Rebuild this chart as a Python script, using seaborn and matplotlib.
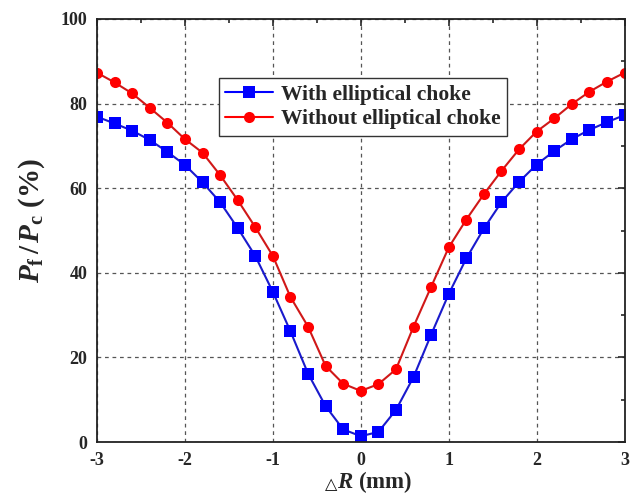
import numpy as np
import pandas as pd
import matplotlib
matplotlib.use("Agg")
import matplotlib.pyplot as plt
import seaborn as sns
from matplotlib.ticker import MultipleLocator

# Displacement offsets (mm)
delta_r = [-3.0, -2.8, -2.6, -2.4, -2.2, -2.0, -1.8, -1.6, -1.4, -1.2, -1.0,
           -0.8, -0.6, -0.4, -0.2, 0.0, 0.2, 0.4, 0.6, 0.8, 1.0,
           1.2, 1.4, 1.6, 1.8, 2.0, 2.2, 2.4, 2.6, 2.8, 3.0]

# Power ratio Pf/Pc (%) with the elliptical choke
with_choke = [76.9, 75.3, 73.6, 71.4, 68.6, 65.5, 61.4, 56.7, 50.6, 44.0, 35.5,
              26.2, 16.2, 8.5, 3.0, 1.4, 2.4, 7.6, 15.4, 25.4, 35.0,
              43.4, 50.5, 56.7, 61.5, 65.6, 68.8, 71.6, 73.8, 75.6, 77.3]

# Power ratio Pf/Pc (%) without the elliptical choke
without_choke = [87.3, 85.0, 82.4, 79.0, 75.5, 71.6, 68.4, 63.1, 57.2, 50.8, 44.0,
                 34.3, 27.3, 18.0, 13.8, 12.1, 13.7, 17.2, 27.3, 36.7, 46.0,
                 52.6, 58.6, 64.1, 69.2, 73.4, 76.5, 79.9, 82.8, 85.2, 87.3]

series_names = ["With elliptical choke", "Without elliptical choke"]

df = pd.concat([
    pd.DataFrame({"dR": delta_r, "ratio": with_choke, "case": series_names[0]}),
    pd.DataFrame({"dR": delta_r, "ratio": without_choke, "case": series_names[1]}),
])

sns.set_theme(style="white")
plt.rcParams["font.family"] = ["Liberation Serif", "DejaVu Serif"]
plt.rcParams["font.weight"] = "bold"
plt.rcParams["axes.unicode_minus"] = False
plt.rcParams["mathtext.fontset"] = "custom"
plt.rcParams["mathtext.rm"] = "Liberation Serif:bold"
plt.rcParams["mathtext.it"] = "Liberation Serif:italic:bold"
plt.rcParams["mathtext.bf"] = "Liberation Serif:bold"

fig, ax = plt.subplots(figsize=(6.38, 4.99), dpi=100)
fig.subplots_adjust(left=0.152, right=0.979, top=0.962, bottom=0.114)

palette = {series_names[0]: "#0000ff", series_names[1]: "#ff0000"}
sns.lineplot(data=df, x="dR", y="ratio", hue="case", style="case",
             markers={series_names[0]: "s", series_names[1]: "o"},
             dashes=False, palette=palette, ax=ax, linewidth=1.5,
             markersize=8, markeredgewidth=0)

# line colours slightly darker than the marker faces
line_colors = ["#1a1acc", "#d01818"]
for i, line in enumerate(ax.lines[:2]):
    line.set_color(line_colors[i])
    line.set_markerfacecolor(palette[series_names[i]])

ax.set_xlim(-3, 3)
ax.set_ylim(0, 100)
ax.xaxis.set_major_locator(MultipleLocator(1))
ax.xaxis.set_minor_locator(MultipleLocator(0.5))
ax.yaxis.set_major_locator(MultipleLocator(20))
ax.yaxis.set_minor_locator(MultipleLocator(10))
ax.tick_params(which="both", direction="in", top=True, right=True,
               labelsize=13, width=1.2)
ax.tick_params(which="major", length=5, pad=7)
ax.tick_params(which="minor", length=3)
for lab in ax.get_xticklabels() + ax.get_yticklabels():
    lab.set_fontweight("bold")

ax.grid(True, which="major", linestyle=(0, (3, 3)), color="#555555", linewidth=0.9)
for sp in ax.spines.values():
    sp.set_linewidth(1.3)
    sp.set_color("#222222")

# x label: small triangle prefix before the italic R
ax.set_xlabel(r"$\mathit{R}$ (mm)", fontsize=16.5, fontweight="bold")
ax.xaxis.set_label_coords(0.527, -0.064)
ax.annotate("\u25b3", xy=(0, 0.1), xycoords=ax.xaxis.label,
            ha="right", va="bottom", fontsize=11.5, style="oblique",
            family=["DejaVu Sans"], fontweight="normal", color="#111111")

ax.set_ylabel(r"$\mathit{P}_{\mathbf{f}}\,/\,\mathit{P}_{\mathbf{c}}$ (%)", fontsize=21,
              fontweight="bold")
ax.yaxis.set_label_coords(-0.095, 0.525)

leg = ax.legend(loc="upper left", bbox_to_anchor=(0.231, 0.86), frameon=True,
                fancybox=False, edgecolor="#333333", framealpha=1,
                prop={"family": "Liberation Serif", "weight": "bold", "size": 15.5},
                handlelength=2.2, borderpad=0.3, labelspacing=0.2,
                handletextpad=0.4, borderaxespad=0)
leg.get_frame().set_linewidth(1.0)

fig.savefig("out.png", dpi=100)
